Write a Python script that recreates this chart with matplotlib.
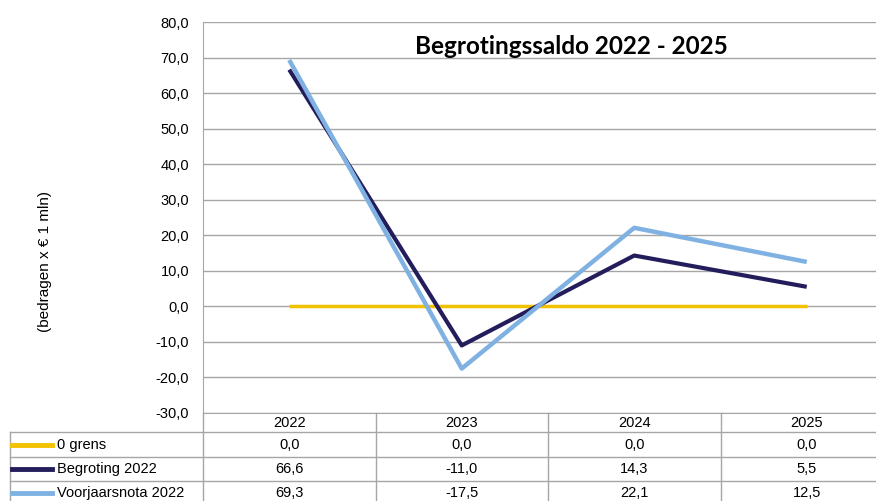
import matplotlib.pyplot as plt
import matplotlib.transforms as mtransforms

plt.rcParams['font.family'] = 'Liberation Sans'

# data
jaren = ['2022', '2023', '2024', '2025']
nul_grens = [0.0, 0.0, 0.0, 0.0]
begroting = [66.6, -11.0, 14.3, 5.5]
voorjaarsnota = [69.3, -17.5, 22.1, 12.5]

series = [
    ('0 grens', nul_grens, '#f2c200', 2.5),
    ('Begroting 2022', begroting, '#231d5c', 3.0),
    ('Voorjaarsnota 2022', voorjaarsnota, '#7fb2e2', 3.2),
]

W, H = 876, 501
fig = plt.figure(figsize=(W / 100, H / 100), dpi=100)
ax = fig.add_axes([203 / W, 1 - 413 / H, 690 / W, 391 / H])

x = range(len(jaren))
for naam, vals, kleur, lw in series:
    ax.plot(x, vals, color=kleur, lw=lw, solid_capstyle='butt', zorder=3)

ax.set_xlim(-0.5, len(jaren) - 0.5)
ax.set_ylim(-30, 80)
ax.set_yticks(range(-30, 81, 10))
ax.set_yticklabels([f"{v:.1f}".replace('.', ',') for v in range(-30, 81, 10)], fontsize=10.5)
ax.set_xticks([])
ax.tick_params(axis='y', length=0, pad=10)
ax.grid(axis='y', color='#a6a6a6', lw=1)
for s in ['top', 'right']:
    ax.spines[s].set_visible(False)
for s in ['left', 'bottom']:
    ax.spines[s].set_color('#a6a6a6')

fig.text(45 / W, 1 - 262 / H, '(bedragen x € 1 mln)', rotation=90,
         ha='center', va='center', fontsize=11)
fig.text(571 / W, 1 - 47 / H, 'Begrotingssaldo 2022 - 2025', ha='center', va='center',
         fontsize=17.5, fontweight='bold', family='Lato')

# data table below the chart
tr = mtransforms.blended_transform_factory(ax.transData, fig.transFigure)
grijs = '#a6a6a6'

def fy(py):
    return 1 - py / H

for py in [432, 457, 481]:
    fig.add_artist(plt.Line2D([10 / W, 1], [fy(py), fy(py)], color=grijs, lw=1,
                              transform=fig.transFigure))
fig.add_artist(plt.Line2D([10 / W, 10 / W], [fy(432), 0], color=grijs, lw=1,
                          transform=fig.transFigure))
for i in range(len(jaren) + 1):
    fig.add_artist(plt.Line2D([i - 0.5, i - 0.5], [fy(413), 0], color=grijs, lw=1,
                              transform=tr))

for i, j in enumerate(jaren):
    fig.text(i, fy(423), j, transform=tr, ha='center', va='center', fontsize=10.5)

rij_y = [445, 469, 493]
for (naam, vals, kleur, lw), py in zip(series, rij_y):
    fig.add_artist(plt.Line2D([12 / W, 52 / W], [fy(py), fy(py)], color=kleur, lw=3.5,
                              transform=fig.transFigure))
    fig.text(57 / W, fy(py), naam, ha='left', va='center', fontsize=10.5)
    for i, v in enumerate(vals):
        fig.text(i, fy(py), f"{v:.1f}".replace('.', ','), transform=tr,
                 ha='center', va='center', fontsize=10.5)

fig.savefig('out.png', dpi=100)
